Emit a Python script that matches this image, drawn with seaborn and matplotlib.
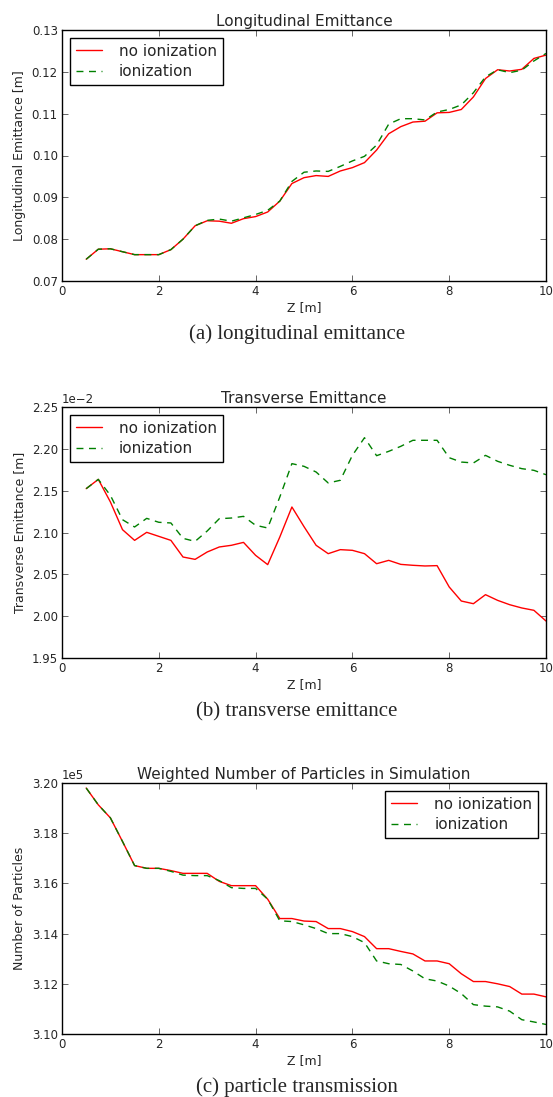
import pandas as pd
import matplotlib
matplotlib.use("Agg")
import matplotlib.pyplot as plt
from matplotlib.ticker import MultipleLocator
import seaborn as sns

# position along the beamline [m]
z_pos = [0.5, 0.75, 1.0, 1.25, 1.5, 1.75, 2.0, 2.25, 2.5, 2.75,
         3.0, 3.25, 3.5, 3.75, 4.0, 4.25, 4.5, 4.75, 5.0, 5.25,
         5.5, 5.75, 6.0, 6.25, 6.5, 6.75, 7.0, 7.25, 7.5, 7.75,
         8.0, 8.25, 8.5, 8.75, 9.0, 9.25, 9.5, 9.75, 10.0]

# (a) longitudinal emittance [m]
long_no_ion = [0.0752, 0.0776, 0.0777, 0.0770, 0.0763, 0.0763, 0.0763, 0.0775, 0.0800, 0.0832,
               0.0844, 0.0843, 0.0838, 0.0849, 0.0854, 0.0865, 0.0891, 0.0933, 0.0947, 0.0952,
               0.0950, 0.0963, 0.0971, 0.0983, 0.1013, 0.1052, 0.1069, 0.1080, 0.1082, 0.1102,
               0.1103, 0.1110, 0.1140, 0.1184, 0.1205, 0.1202, 0.1206, 0.1232, 0.1240]
long_ion = [0.0752, 0.0776, 0.0777, 0.0770, 0.0763, 0.0763, 0.0763, 0.0775, 0.0800, 0.0832,
            0.0845, 0.0848, 0.0843, 0.0851, 0.0859, 0.0869, 0.0891, 0.0938, 0.0960, 0.0963,
            0.0962, 0.0974, 0.0987, 0.0998, 0.1025, 0.1075, 0.1088, 0.1088, 0.1085, 0.1104,
            0.1110, 0.1121, 0.1150, 0.1188, 0.1205, 0.1198, 0.1204, 0.1226, 0.1244]

# (b) transverse emittance [1e-2 m]
trans_no_ion = [2.1524, 2.1635, 2.1365, 2.1034, 2.0906, 2.1002, 2.0954, 2.0906, 2.0707, 2.0679,
                2.0767, 2.0827, 2.0847, 2.0882, 2.0727, 2.0616, 2.0946, 2.1305, 2.1070, 2.0847,
                2.0747, 2.0795, 2.0787, 2.0747, 2.0627, 2.0667, 2.0619, 2.0608, 2.0600, 2.0604,
                2.0349, 2.0181, 2.0149, 2.0257, 2.0189, 2.0137, 2.0098, 2.0070, 1.9942]
trans_ion = [2.1524, 2.1635, 2.1444, 2.1153, 2.1066, 2.1169, 2.1122, 2.1114, 2.0930, 2.0894,
             2.1018, 2.1165, 2.1173, 2.1193, 2.1086, 2.1054, 2.1424, 2.1823, 2.1791, 2.1723,
             2.1592, 2.1624, 2.1922, 2.2133, 2.1918, 2.1970, 2.2030, 2.2102, 2.2102, 2.2102,
             2.1894, 2.1842, 2.1831, 2.1922, 2.1851, 2.1803, 2.1763, 2.1743, 2.1691]

# (c) weighted number of particles [1e5]
part_no_ion = [3.1980, 3.1913, 3.1861, 3.1767, 3.1671, 3.1660, 3.1660, 3.1651, 3.1640, 3.1640,
               3.1640, 3.1608, 3.1591, 3.1591, 3.1591, 3.1537, 3.1460, 3.1460, 3.1450, 3.1448,
               3.1420, 3.1420, 3.1408, 3.1388, 3.1340, 3.1340, 3.1329, 3.1319, 3.1291, 3.1291,
               3.1280, 3.1240, 3.1209, 3.1209, 3.1200, 3.1189, 3.1159, 3.1159, 3.1148]
part_ion = [3.1980, 3.1913, 3.1861, 3.1767, 3.1671, 3.1660, 3.1660, 3.1648, 3.1633, 3.1631,
            3.1631, 3.1611, 3.1583, 3.1580, 3.1580, 3.1537, 3.1451, 3.1448, 3.1435, 3.1420,
            3.1400, 3.1400, 3.1388, 3.1364, 3.1291, 3.1280, 3.1277, 3.1251, 3.1220, 3.1211,
            3.1191, 3.1161, 3.1117, 3.1111, 3.1108, 3.1091, 3.1057, 3.1048, 3.1038]

SERIES = ["no ionization", "ionization"]
PALETTE = {"no ionization": "red", "ionization": "green"}
DASHES = {"no ionization": "", "ionization": (5, 4)}

sns.set_style("white", {"xtick.direction": "in", "ytick.direction": "in",
                        "axes.edgecolor": "black"})
plt.rcParams["font.family"] = ["DejaVu Sans"]
plt.rcParams["axes.linewidth"] = 1.0


def long_frame(a, b, scale=1.0):
    df = pd.DataFrame({"z": z_pos * 2,
                       "value": [v * scale for v in a + b],
                       "series": [SERIES[0]] * len(a) + [SERIES[1]] * len(b)})
    return df


panels = [
    dict(df=long_frame(long_no_ion, long_ion), title="Longitudinal Emittance",
         ylabel="Longitudinal Emittance [m]", ylim=(0.07, 0.13), step=0.01,
         sci=False, loc="upper left", caption="(a) longitudinal emittance"),
    dict(df=long_frame(trans_no_ion, trans_ion, 1e-2), title="Transverse Emittance",
         ylabel="Transverse Emittance [m]", ylim=(0.0195, 0.0225), step=0.0005,
         sci=True, loc="upper left", caption="(b) transverse emittance"),
    dict(df=long_frame(part_no_ion, part_ion, 1e5),
         title="Weighted Number of Particles in Simulation",
         ylabel="Number of Particles", ylim=(310000, 320000), step=2000,
         sci=True, loc="upper right", caption="(c) particle transmission"),
]

W, H = 553, 1097
fig = plt.figure(figsize=(W / 100, H / 100), dpi=100)
tops = [30, 407, 783]
ax_h = 251

for p, top in zip(panels, tops):
    ax = fig.add_axes([62 / W, 1 - (top + ax_h) / H, 484 / W, ax_h / H])
    sns.lineplot(data=p["df"], x="z", y="value", hue="series", style="series",
                 palette=PALETTE, dashes=DASHES, hue_order=SERIES,
                 style_order=SERIES, linewidth=1.0, ax=ax)
    ax.set_xlim(0, 10)
    ax.set_ylim(*p["ylim"])
    ax.xaxis.set_major_locator(MultipleLocator(2))
    ax.yaxis.set_major_locator(MultipleLocator(p["step"]))
    if p["sci"]:
        ax.ticklabel_format(axis="y", style="sci", scilimits=(0, 0), useOffset=False)
    ax.tick_params(axis="both", which="major", labelsize=8.5, length=4, width=0.6,
                   top=True, right=True, bottom=True, left=True, color="0.3", pad=3)
    ax.yaxis.get_offset_text().set_fontsize(8.5)
    ax.set_title(p["title"], fontsize=11, pad=3)
    ax.set_xlabel("Z [m]", fontsize=9, labelpad=2)
    ax.set_ylabel(p["ylabel"], fontsize=9, labelpad=4)
    handles, labels = ax.get_legend_handles_labels()
    leg = ax.legend(handles, labels, loc=p["loc"], fontsize=11, frameon=True,
                    fancybox=False, framealpha=1, edgecolor="black",
                    handlelength=1.7, handletextpad=1.1, borderaxespad=0.5,
                    labelspacing=0.35, borderpad=0.4)
    leg.get_frame().set_linewidth(1.0)
    # sub-figure caption, set in a Times-like face below the axes
    fig.text(297 / W, 1 - (top + ax_h + 58) / H, p["caption"], ha="center",
             va="baseline", fontsize=15, family="Liberation Serif")

fig.savefig("out.png", dpi=100)
